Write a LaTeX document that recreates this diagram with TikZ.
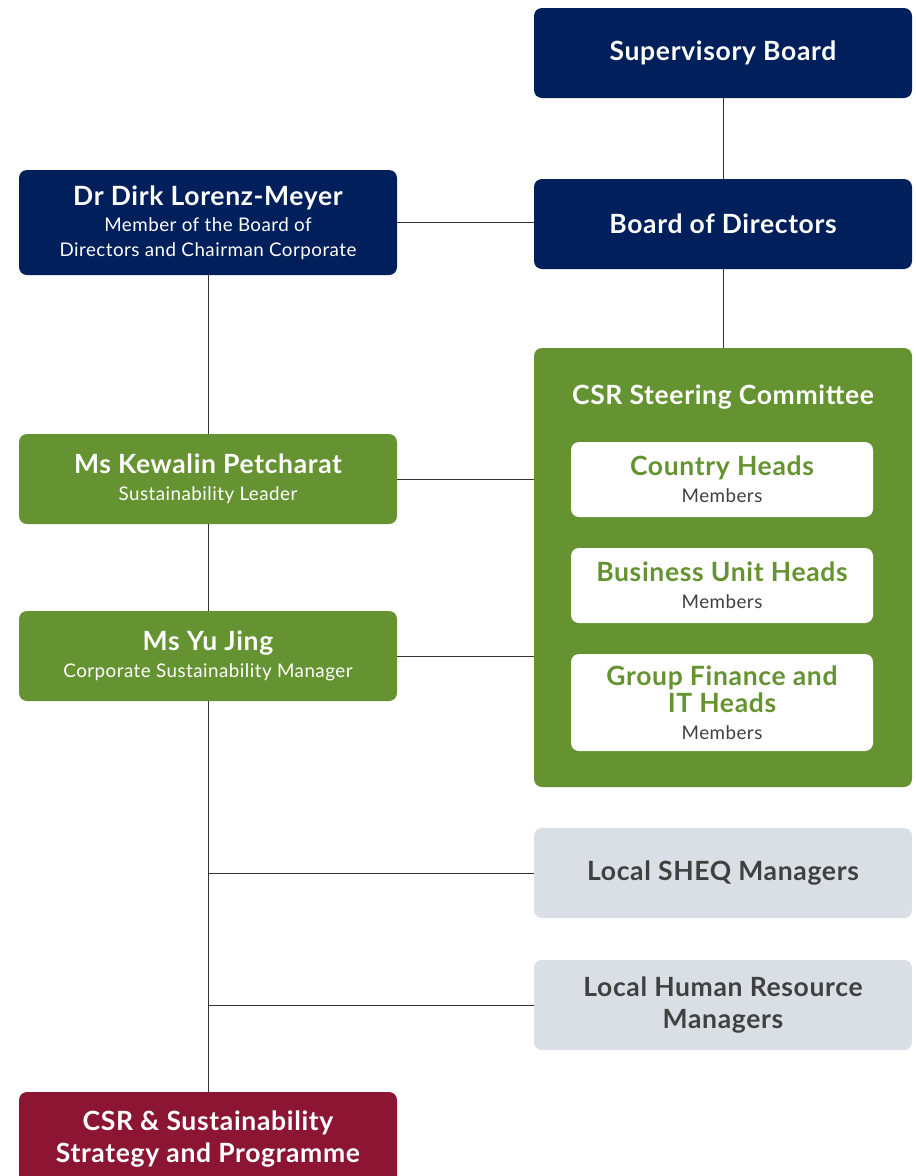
\documentclass[tikz,border=0pt]{standalone}
\usepackage{fontspec}
\setmainfont{Lato}[LetterSpace=2.5]
\definecolor{orgnavy}{RGB}{0,31,91}
\definecolor{orggreen}{RGB}{101,147,49}
\definecolor{orgred}{RGB}{141,21,52}
\definecolor{orggrey}{RGB}{217,223,229}
\definecolor{orgtext}{RGB}{64,64,64}
\newcommand\boxhead{\fontsize{26.5}{29}\selectfont\bfseries}
\newcommand\boxsubline{\fontsize{18.8}{23}\selectfont\mdseries}
\begin{document}
\begin{tikzpicture}[x=1pt,y=-1pt,
  box/.style={rounded corners=8pt,minimum width=378pt,minimum height=90pt,align=center,inner sep=0pt,font=\boxhead},
  navybox/.style={box,fill=orgnavy,text=white},
  greenbox/.style={box,fill=orggreen,text=white},
  greybox/.style={box,fill=orggrey,text=orgtext,font=\fontsize{26.5}{32}\selectfont\bfseries},
  redbox/.style={box,fill=orgred,text=white,font=\fontsize{26.5}{32}\selectfont\bfseries},
  member/.style={box,fill=white,text=orggreen,minimum width=302pt,minimum height=75pt},
  link/.style={draw=black!80,line width=0.9pt}]
  \useasboundingbox (0,0) rectangle (916,1176);
  % right column
  \node[navybox] (sboard) at (723,53) {Supervisory Board};
  \node[navybox] (bod) at (723,224) {Board of Directors};
  \node[greenbox,minimum height=439pt] (csr) at (723,567.5) {};
  \node[font=\boxhead,text=white] (csrtitle) at (723,397) {CSR Steering Committee};
  \node[member] (country) at (722,479.5) {Country Heads\\[-2pt]{\boxsubline\color{orgtext}Members}};
  \node[member] (bunit) at (722,585.5) {Business Unit Heads\\[-2pt]{\boxsubline\color{orgtext}Members}};
  \node[member,minimum height=97pt,font=\fontsize{26.5}{27}\selectfont\bfseries] (finance) at (722,702.5) {Group Finance and\\IT Heads\\[0pt]{\boxsubline\color{orgtext}Members}};
  \node[greybox] (sheq) at (723,873) {Local SHEQ Managers};
  \node[greybox] (hr) at (723,1005) {Local Human Resource\\Managers};
  % left column
  \node[navybox,minimum height=105pt] (dirk) at (208,222.5) {Dr Dirk Lorenz-Meyer\\[-3pt]{\boxsubline Member of the Board of}\\[-4pt]{\boxsubline Directors and Chairman Corporate}};
  \node[greenbox] (kewalin) at (208,479) {Ms Kewalin Petcharat\\[-2pt]{\boxsubline Sustainability Leader}};
  \node[greenbox] (yujing) at (208,656) {Ms Yu Jing\\[-2pt]{\boxsubline Corporate Sustainability Manager}};
  \node[redbox,minimum height=94pt] (strategy) at (208,1139) {CSR \& Sustainability\\Strategy and Programme};
  % connectors
  \draw[link] (sboard) -- (bod);
  \draw[link] (bod) -- (csr);
  \draw[link] (dirk) -- (dirk -| bod.west);
  \draw[link] (dirk) -- (kewalin);
  \draw[link] (kewalin) -- (yujing);
  \draw[link] (yujing) -- (strategy);
  \draw[link] (kewalin.east) -- (kewalin.east -| csr.west);
  \draw[link] (yujing.east) -- (yujing.east -| csr.west);
  \coordinate (sheqjoin) at (yujing.south |- sheq.west);
  \coordinate (hrjoin) at (yujing.south |- hr.west);
  \draw[link] (sheqjoin) -- (sheq.west);
  \draw[link] (hrjoin) -- (hr.west);
\end{tikzpicture}
\end{document}
